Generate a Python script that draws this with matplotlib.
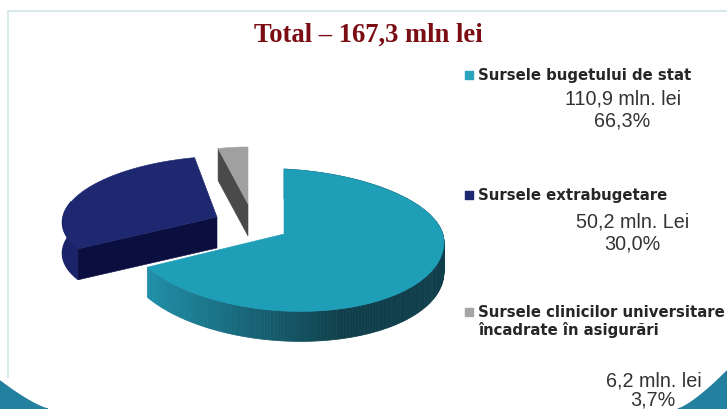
import numpy as np
import matplotlib
matplotlib.use("Agg")
import matplotlib.pyplot as plt
from matplotlib.colors import to_rgb
from matplotlib.patches import Polygon

labels = ["Sursele bugetului de stat", "Sursele extrabugetare",
          "Sursele clinicilor universitare\nîncadrate în asigurări"]
amounts = ["110,9 mln. lei", "50,2 mln. Lei", "6,2 mln. lei"]
shares = [66.3, 30.0, 3.7]
share_text = ["66,3%", "30,0%", "3,7%"]
title = "Total – 167,3 mln lei"

top_colors = ["#1f9eb8", "#1e2870", "#a0a0a0"]
side_colors = ["#1f8aa3", "#0b0f40", "#4a4a4a"]
legend_colors = ["#2ba3bd", "#1e2870", "#a6a6a6"]

fig = plt.figure(figsize=(7.27, 4.10), dpi=100)
ax = fig.add_axes([0, 0, 1, 1])
ax.set_xlim(0, 727)
ax.set_ylim(410, 0)
ax.axis("off")

# slide frame and corner swooshes
ax.plot([8, 8, 727], [378, 12, 12], color="#d8e8ec", lw=1.5)
t = np.linspace(0, 1, 30)
ax.fill(np.r_[0, 48 * t, 0], np.r_[410, 410 - 28 * (1 - t) ** 1.3, 410], color="#24809f", zorder=1)
ax.fill(np.r_[727, 727 - 49 * t, 727], np.r_[410, 410 - 38 * (1 - t) ** 1.3, 410], color="#24809f", zorder=1)

# (apex x, apex y, radius, height up, height down, depth, x shear, y shear)
shapes = [(284, 235, 160, 65, 77, 30, 0.0, 0.05),
          (217, 218, 154, 61, 61, 31, -0.22, 0.0),
          (248, 205, 130, 57, 57, 32, 0.0, 0.0)]


def ring(shape, ang):
    cx, cy, a, up, down, d, kx, ky = shape
    s = np.sin(ang)
    dx = a * np.cos(ang)
    dy = -s * np.where(s > 0, up, down)
    return cx + dx + kx * dy, cy + dy + ky * dx


start = np.pi / 2
for i in range(3):
    sweep = 2 * np.pi * shares[i] / 100
    ang = np.linspace(start, start - sweep, 200)
    shape = shapes[i]
    cx, cy, d = shape[0], shape[1], shape[5]
    x, y = ring(shape, ang)

    if i == 0:
        # outer rim with left-to-right shading
        dark = np.array(to_rgb("#103f4b"))
        light = np.array(to_rgb("#1f8fa8"))
        for j in range(len(ang) - 1):
            f = np.clip((x[j] - x.min()) / (cx + 60 - x.min()), 0, 1)
            c = light + (dark - light) * f
            ax.add_patch(Polygon([(x[j], y[j]), (x[j + 1], y[j + 1]), (x[j + 1], y[j + 1] + d),
                                  (x[j], y[j] + d)], fc=c, ec=c, lw=0.5, zorder=3))
    else:
        # cut face on the side of the slice that starts the sweep
        ax.add_patch(Polygon([(cx, cy), (x[0], y[0]), (x[0], y[0] + d), (cx, cy + d)],
                             fc=side_colors[i], ec=side_colors[i], lw=0.4, zorder=3))
    if i == 1:
        # short rim on the left of the navy slice
        arc = np.linspace(start, start - 0.8, 40)
        rx, ry = ring(shape, arc)
        ax.add_patch(Polygon(np.c_[np.r_[rx, rx[::-1]], np.r_[ry, ry[::-1] + d]],
                             fc="#1b2468", ec="#1b2468", zorder=2))

    ax.add_patch(Polygon(np.c_[np.r_[cx, x], np.r_[cy, y]], fc=top_colors[i], ec=top_colors[i],
                         lw=0.4, zorder=4))
    start -= sweep

ax.text(368, 35, title, family="Liberation Serif", weight="bold", fontsize=19.2,
        color="#7a0c14", ha="center", va="center")

legend_y = [76, 196, 313]
amount_y = [99, 222, 381]
share_y = [121, 244, 400]
amount_x = [623, 633, 654]
for i in range(3):
    ax.scatter([469], [legend_y[i]], marker="s", s=38, color=legend_colors[i], zorder=5)
    ax.text(478, legend_y[i] - 8, labels[i], family="DejaVu Sans", weight="bold", fontsize=10.7,
            color="#262626", va="top", linespacing=1.15)
    ax.text(amount_x[i], amount_y[i], amounts[i], family="Liberation Sans", fontsize=14.2,
            color="#333333", ha="center", va="center")
    ax.text(amount_x[i] - 1, share_y[i], share_text[i], family="Liberation Sans", fontsize=14.2,
            color="#333333", ha="center", va="center")

fig.savefig("out.png", dpi=100)
